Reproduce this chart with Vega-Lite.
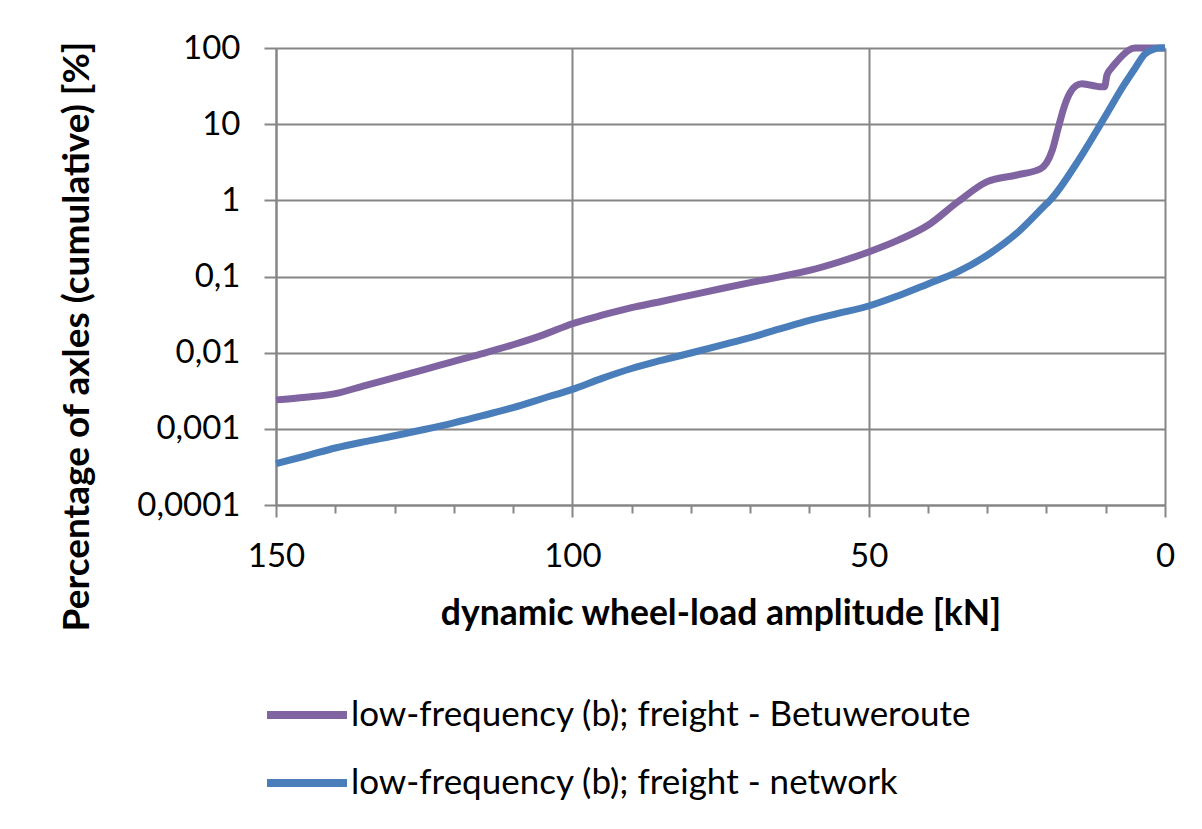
{
  "$schema": "https://vega.github.io/schema/vega-lite/v6.json",
  "width": 889,
  "height": 457,
  "autosize": {"type": "none"},
  "padding": {"left": 276, "top": 48, "right": 37, "bottom": 324},
  "background": "white",
  "config": {"view": {"stroke": null}, "font": "Lato"},
  "data": {
    "values": [
      {"series": "low-frequency (b); freight - Betuweroute", "kN": 150, "pct": 0.0024},
      {"series": "low-frequency (b); freight - Betuweroute", "kN": 145, "pct": 0.0026},
      {"series": "low-frequency (b); freight - Betuweroute", "kN": 140, "pct": 0.0029},
      {"series": "low-frequency (b); freight - Betuweroute", "kN": 135, "pct": 0.0037},
      {"series": "low-frequency (b); freight - Betuweroute", "kN": 130, "pct": 0.0047},
      {"series": "low-frequency (b); freight - Betuweroute", "kN": 125, "pct": 0.006},
      {"series": "low-frequency (b); freight - Betuweroute", "kN": 120, "pct": 0.0077},
      {"series": "low-frequency (b); freight - Betuweroute", "kN": 115, "pct": 0.0098},
      {"series": "low-frequency (b); freight - Betuweroute", "kN": 110, "pct": 0.0127},
      {"series": "low-frequency (b); freight - Betuweroute", "kN": 105, "pct": 0.017},
      {"series": "low-frequency (b); freight - Betuweroute", "kN": 100, "pct": 0.024},
      {"series": "low-frequency (b); freight - Betuweroute", "kN": 95, "pct": 0.031},
      {"series": "low-frequency (b); freight - Betuweroute", "kN": 90, "pct": 0.039},
      {"series": "low-frequency (b); freight - Betuweroute", "kN": 85, "pct": 0.047},
      {"series": "low-frequency (b); freight - Betuweroute", "kN": 80, "pct": 0.057},
      {"series": "low-frequency (b); freight - Betuweroute", "kN": 75, "pct": 0.069},
      {"series": "low-frequency (b); freight - Betuweroute", "kN": 70, "pct": 0.083},
      {"series": "low-frequency (b); freight - Betuweroute", "kN": 65, "pct": 0.099},
      {"series": "low-frequency (b); freight - Betuweroute", "kN": 60, "pct": 0.12},
      {"series": "low-frequency (b); freight - Betuweroute", "kN": 55, "pct": 0.155},
      {"series": "low-frequency (b); freight - Betuweroute", "kN": 50, "pct": 0.21},
      {"series": "low-frequency (b); freight - Betuweroute", "kN": 45, "pct": 0.3},
      {"series": "low-frequency (b); freight - Betuweroute", "kN": 40, "pct": 0.47},
      {"series": "low-frequency (b); freight - Betuweroute", "kN": 35, "pct": 0.95},
      {"series": "low-frequency (b); freight - Betuweroute", "kN": 30, "pct": 1.76},
      {"series": "low-frequency (b); freight - Betuweroute", "kN": 25, "pct": 2.15},
      {"series": "low-frequency (b); freight - Betuweroute", "kN": 21, "pct": 2.6},
      {"series": "low-frequency (b); freight - Betuweroute", "kN": 20, "pct": 3.1},
      {"series": "low-frequency (b); freight - Betuweroute", "kN": 19, "pct": 4.6},
      {"series": "low-frequency (b); freight - Betuweroute", "kN": 18, "pct": 9},
      {"series": "low-frequency (b); freight - Betuweroute", "kN": 17, "pct": 17},
      {"series": "low-frequency (b); freight - Betuweroute", "kN": 16, "pct": 26},
      {"series": "low-frequency (b); freight - Betuweroute", "kN": 15, "pct": 32},
      {"series": "low-frequency (b); freight - Betuweroute", "kN": 14, "pct": 34},
      {"series": "low-frequency (b); freight - Betuweroute", "kN": 13, "pct": 33},
      {"series": "low-frequency (b); freight - Betuweroute", "kN": 12, "pct": 32},
      {"series": "low-frequency (b); freight - Betuweroute", "kN": 11, "pct": 31},
      {"series": "low-frequency (b); freight - Betuweroute", "kN": 10.2, "pct": 31},
      {"series": "low-frequency (b); freight - Betuweroute", "kN": 9.8, "pct": 44},
      {"series": "low-frequency (b); freight - Betuweroute", "kN": 9, "pct": 55},
      {"series": "low-frequency (b); freight - Betuweroute", "kN": 8, "pct": 68},
      {"series": "low-frequency (b); freight - Betuweroute", "kN": 7, "pct": 82},
      {"series": "low-frequency (b); freight - Betuweroute", "kN": 6, "pct": 95},
      {"series": "low-frequency (b); freight - Betuweroute", "kN": 5, "pct": 100},
      {"series": "low-frequency (b); freight - Betuweroute", "kN": 0, "pct": 100},
      {"series": "low-frequency (b); freight - network", "kN": 150, "pct": 0.00035},
      {"series": "low-frequency (b); freight - network", "kN": 145, "pct": 0.00044},
      {"series": "low-frequency (b); freight - network", "kN": 140, "pct": 0.00056},
      {"series": "low-frequency (b); freight - network", "kN": 135, "pct": 0.00068},
      {"series": "low-frequency (b); freight - network", "kN": 130, "pct": 0.00081},
      {"series": "low-frequency (b); freight - network", "kN": 125, "pct": 0.00098},
      {"series": "low-frequency (b); freight - network", "kN": 120, "pct": 0.0012},
      {"series": "low-frequency (b); freight - network", "kN": 115, "pct": 0.0015},
      {"series": "low-frequency (b); freight - network", "kN": 110, "pct": 0.0019},
      {"series": "low-frequency (b); freight - network", "kN": 105, "pct": 0.0025},
      {"series": "low-frequency (b); freight - network", "kN": 100, "pct": 0.0033},
      {"series": "low-frequency (b); freight - network", "kN": 95, "pct": 0.0046},
      {"series": "low-frequency (b); freight - network", "kN": 90, "pct": 0.0062},
      {"series": "low-frequency (b); freight - network", "kN": 85, "pct": 0.0079},
      {"series": "low-frequency (b); freight - network", "kN": 80, "pct": 0.0099},
      {"series": "low-frequency (b); freight - network", "kN": 75, "pct": 0.0125},
      {"series": "low-frequency (b); freight - network", "kN": 70, "pct": 0.0158},
      {"series": "low-frequency (b); freight - network", "kN": 65, "pct": 0.0205},
      {"series": "low-frequency (b); freight - network", "kN": 60, "pct": 0.0265},
      {"series": "low-frequency (b); freight - network", "kN": 55, "pct": 0.033},
      {"series": "low-frequency (b); freight - network", "kN": 50, "pct": 0.041},
      {"series": "low-frequency (b); freight - network", "kN": 45, "pct": 0.056},
      {"series": "low-frequency (b); freight - network", "kN": 40, "pct": 0.08},
      {"series": "low-frequency (b); freight - network", "kN": 35, "pct": 0.115},
      {"series": "low-frequency (b); freight - network", "kN": 30, "pct": 0.19},
      {"series": "low-frequency (b); freight - network", "kN": 25, "pct": 0.37},
      {"series": "low-frequency (b); freight - network", "kN": 20, "pct": 0.9},
      {"series": "low-frequency (b); freight - network", "kN": 19.4, "pct": 1.0},
      {"series": "low-frequency (b); freight - network", "kN": 15, "pct": 3.0},
      {"series": "low-frequency (b); freight - network", "kN": 13.8, "pct": 4.2},
      {"series": "low-frequency (b); freight - network", "kN": 10, "pct": 13},
      {"series": "low-frequency (b); freight - network", "kN": 7, "pct": 32},
      {"series": "low-frequency (b); freight - network", "kN": 5, "pct": 55},
      {"series": "low-frequency (b); freight - network", "kN": 3.5, "pct": 82},
      {"series": "low-frequency (b); freight - network", "kN": 2, "pct": 96},
      {"series": "low-frequency (b); freight - network", "kN": 1, "pct": 100},
      {"series": "low-frequency (b); freight - network", "kN": 0, "pct": 100}
    ]
  },
  "mark": {"type": "line", "interpolate": "monotone", "strokeWidth": 7},
  "encoding": {
    "x": {
      "field": "kN",
      "type": "quantitative",
      "scale": {"domain": [0, 150], "reverse": true, "nice": false, "zero": false},
      "axis": {
        "values": [150, 140, 130, 120, 110, 100, 90, 80, 70, 60, 50, 40, 30, 20, 10, 0],
        "format": "d",
        "labelExpr": "datum.value % 50 === 0 ? datum.label : ''",
        "title": "dynamic wheel-load amplitude [kN]",
        "grid": true,
        "gridColor": "#868686",
        "gridWidth": 2,
        "gridOpacity": {"condition": {"test": "datum.value % 50 === 0", "value": 1}, "value": 0},
        "tickSize": {"condition": {"test": "datum.value % 50 === 0", "value": 12}, "value": 8},
        "tickColor": "#868686",
        "tickWidth": 2,
        "domainColor": "#868686",
        "domainWidth": 2,
        "labelFontSize": 33,
        "labelColor": "black",
        "labelPadding": 23,
        "labelFlush": false,
        "labelOverlap": false,
        "titleFontSize": 35.5,
        "titleFontWeight": "bold",
        "titleColor": "black",
        "titleY": 91
      }
    },
    "y": {
      "field": "pct",
      "type": "quantitative",
      "scale": {"type": "log", "domain": [0.0001, 100], "nice": false},
      "axis": {
        "values": [0.0001, 0.001, 0.01, 0.1, 1, 10, 100],
        "labelExpr": "replace(format(datum.value, '~g'), '.', ',')",
        "title": "Percentage of axles (cumulative) [%]",
        "grid": true,
        "gridColor": "#868686",
        "gridWidth": 2,
        "tickSize": 12,
        "tickColor": "#868686",
        "tickWidth": 2,
        "domainColor": "#868686",
        "domainWidth": 2,
        "labelFontSize": 33,
        "labelColor": "black",
        "labelPadding": 24,
        "labelFlush": false,
        "labelOverlap": false,
        "titleFontSize": 37,
        "titleFontWeight": "bold",
        "titleColor": "black",
        "titleX": -180,
        "titleY": 288
      }
    },
    "color": {
      "field": "series",
      "type": "nominal",
      "scale": {
        "domain": ["low-frequency (b); freight - Betuweroute", "low-frequency (b); freight - network"],
        "range": ["#8064A2", "#4A7EBB"]
      },
      "legend": {
        "title": null,
        "orient": "none",
        "legendX": -13,
        "legendY": 647,
        "padding": 0,
        "symbolType": "stroke",
        "symbolSize": 6400,
        "symbolStrokeWidth": 8,
        "clipHeight": 40,
        "rowPadding": 28,
        "labelFontSize": 35,
        "labelColor": "black",
        "labelOffset": 0,
        "labelLimit": 1000
      }
    }
  }
}
